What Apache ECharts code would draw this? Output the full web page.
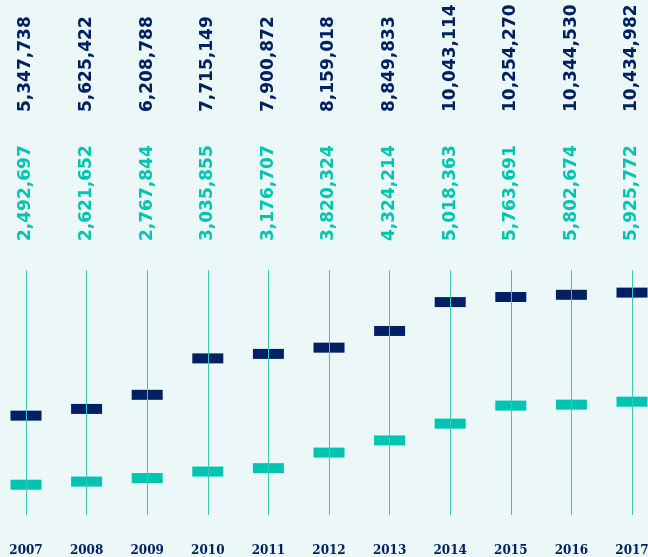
<!DOCTYPE html>
<html>
<head>
<meta charset="utf-8">
<script src="https://cdn.jsdelivr.net/npm/echarts@6/dist/echarts.min.js"></script>
<style>
  html, body { margin: 0; padding: 0; background: #ebf8f7; }
  #main { width: 648px; height: 557px; }
</style>
</head>
<body>
<div id="main"></div>
<script>
var years = ['2007', '2008', '2009', '2010', '2011', '2012', '2013', '2014', '2015', '2016', '2017'];
var navyValues = [5347738, 5625422, 6208788, 7715149, 7900872, 8159018, 8849833, 10043114, 10254270, 10344530, 10434982];
var tealValues = [2492697, 2621652, 2767844, 3035855, 3176707, 3820324, 4324214, 5018363, 5763691, 5802674, 5925772];

var navy = '#002064';
var teal = '#00c4b2';
var lineColor = '#3cc6b8';

var myChart = echarts.init(document.getElementById('main'));

function fmt(v) {
    return v.toLocaleString('en-US');
}

var hidden = {
    boundaryGap: false,
    axisLine: {show: false},
    axisTick: {show: false},
    splitLine: {show: false}
};

option = {
    backgroundColor: '#ebf8f7',
    animation: false,
    grid: {
        left: 26,
        right: 16,
        top: 270,
        bottom: 42,
        containLabel: false,
        outerBoundsMode: 'none'
    },
    xAxis: [
        Object.assign({
            type: 'category',
            data: years,
            position: 'bottom',
            axisLabel: {
                interval: 0,
                margin: 30,
                color: navy,
                fontFamily: 'DejaVu Serif',
                fontWeight: 'bold',
                fontSize: 12
            }
        }, hidden),
        Object.assign({
            type: 'category',
            data: years,
            position: 'top',
            offset: 29,
            axisLabel: {
                interval: 0,
                margin: 0,
                rotate: -90,
                color: teal,
                fontFamily: 'DejaVu Sans',
                fontWeight: 'bold',
                fontSize: 17,
                formatter: function (v, i) { return fmt(tealValues[i]); }
            }
        }, hidden),
        Object.assign({
            type: 'category',
            data: years,
            position: 'top',
            offset: 158,
            axisLabel: {
                interval: 0,
                margin: 0,
                rotate: -90,
                color: navy,
                fontFamily: 'DejaVu Sans',
                fontWeight: 'bold',
                fontSize: 17,
                formatter: function (v, i) { return fmt(navyValues[i]); }
            }
        }, hidden)
    ],
    yAxis: {
        type: 'value',
        min: 1240000,
        max: 11370000,
        axisLabel: {show: false},
        axisLine: {show: false},
        axisTick: {show: false},
        splitLine: {show: false}
    },
    series: [
        {
            type: 'scatter',
            data: navyValues,
            symbol: 'rect',
            symbolSize: [31, 10],
            itemStyle: {color: navy, opacity: 1},
            z: 3,
            markLine: {
                silent: true,
                symbol: ['none', 'none'],
                label: {show: false},
                lineStyle: {color: lineColor, width: 1, type: 'solid'},
                data: years.map(function (y) { return {xAxis: y}; })
            }
        },
        {
            type: 'scatter',
            data: tealValues,
            symbol: 'rect',
            symbolSize: [31, 10],
            itemStyle: {color: teal, opacity: 1},
            z: 3
        }
    ]
};

myChart.setOption(option);
</script>
</body>
</html>
